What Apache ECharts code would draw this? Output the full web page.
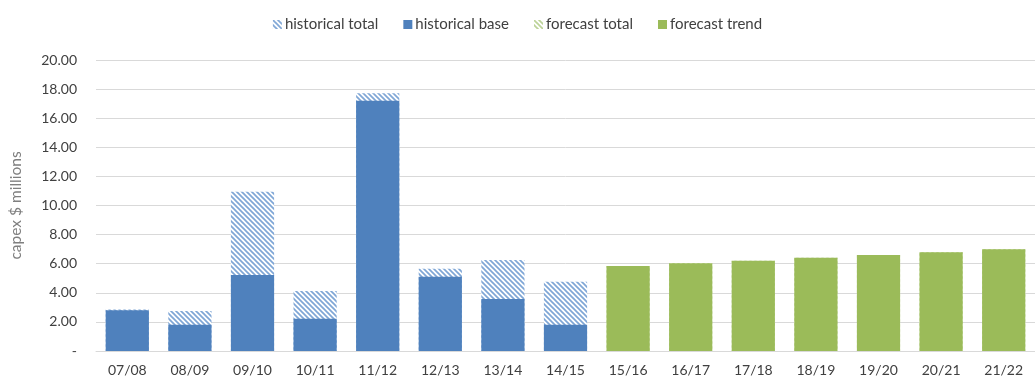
<!DOCTYPE html>
<html>
<head>
<meta charset="utf-8">
<script src="https://cdn.jsdelivr.net/npm/echarts@6/dist/echarts.min.js"></script>
<style>
  html, body { margin: 0; padding: 0; background: #fff; }
  #chart { width: 1035px; height: 379px; }
</style>
</head>
<body>
<div id="chart"></div>
<script>
// Financial years on the category axis
const categories = ['07/08', '08/09', '09/10', '10/11', '11/12', '12/13', '13/14', '14/15',
                    '15/16', '16/17', '17/18', '18/19', '19/20', '20/21', '21/22'];

// Capex, $ millions (null where a series has no value)
const historicalTotal = [2.85, 2.75, 10.95, 4.12, 17.72, 5.65, 6.26, 4.76, null, null, null, null, null, null, null];
const historicalBase  = [2.80, 1.80, 5.22, 2.22, 17.20, 5.10, 3.58, 1.80, null, null, null, null, null, null, null];
const forecastTotal   = [null, null, null, null, null, null, null, null, 5.84, 6.03, 6.21, 6.41, 6.60, 6.78, 6.99];
const forecastTrend   = [null, null, null, null, null, null, null, null, 5.84, 6.03, 6.21, 6.41, 6.60, 6.78, 6.99];

const yTicks = { min: 0, max: 20, interval: 2 };

const FONT = 'Lato, "Open Sans", sans-serif';
const BLUE = '#4F81BD';
const GREEN = '#9BBB59';

// Diagonal hatch fill ("\" direction) built on a small canvas tile
function hatch(color) {
  const s = 5;
  const c = document.createElement('canvas');
  c.width = s; c.height = s;
  const g = c.getContext('2d');
  g.fillStyle = '#ffffff';
  g.fillRect(0, 0, s, s);
  g.strokeStyle = color;
  g.lineWidth = 1.7;
  g.lineCap = 'square';
  for (const off of [-s, 0, s]) {
    g.beginPath();
    g.moveTo(off, 0);
    g.lineTo(off + s, s);
    g.stroke();
  }
  return { image: c, repeat: 'repeat' };
}

const chart = echarts.init(document.getElementById('chart'), null, { renderer: 'canvas' });

const barCommon = {
  type: 'bar',
  barGap: '-100%',
  barCategoryGap: '31%',
  animation: false
};

chart.setOption({
  backgroundColor: '#ffffff',
  textStyle: { fontFamily: FONT },
  legend: {
    top: 12,
    left: 'center',
    itemWidth: 9,
    itemHeight: 9,
    itemGap: 25,
    icon: 'rect',
    textStyle: { fontFamily: FONT, fontSize: 15, color: '#404040', padding: [0, 0, 0, -2] },
    data: ['historical total', 'historical base', 'forecast total', 'forecast trend']
  },
  grid: { left: 92, right: -10, top: 60, bottom: 28, containLabel: false },
  xAxis: {
    type: 'category',
    data: categories,
    axisLine: { lineStyle: { color: '#d9d9d9', width: 1 } },
    axisTick: { show: false },
    axisLabel: { fontFamily: FONT, fontSize: 14, color: '#404040', margin: 12 }
  },
  yAxis: {
    type: 'value',
    min: yTicks.min,
    max: yTicks.max,
    interval: yTicks.interval,
    name: 'capex $ millions',
    nameLocation: 'middle',
    nameRotate: 90,
    nameGap: 72,
    nameTextStyle: { fontFamily: FONT, fontSize: 15.5, color: '#7f7f7f' },
    axisLine: { show: false },
    axisTick: { show: false },
    splitLine: { lineStyle: { color: '#d9d9d9', width: 1 } },
    axisLabel: {
      fontFamily: FONT, fontSize: 14, color: '#404040', margin: 19,
      formatter: v => (v === 0 ? '-' : v.toFixed(2))
    }
  },
  series: [
    Object.assign({}, barCommon, {
      name: 'historical total',
      data: historicalTotal,
      itemStyle: { color: hatch('#7fa6d6') },
      z: 1
    }),
    Object.assign({}, barCommon, {
      name: 'historical base',
      data: historicalBase,
      itemStyle: { color: BLUE },
      z: 2
    }),
    Object.assign({}, barCommon, {
      name: 'forecast total',
      data: forecastTotal,
      itemStyle: { color: hatch('#bcd398') },
      z: 1
    }),
    Object.assign({}, barCommon, {
      name: 'forecast trend',
      data: forecastTrend,
      itemStyle: { color: GREEN },
      z: 2
    })
  ]
});
</script>
</body>
</html>
